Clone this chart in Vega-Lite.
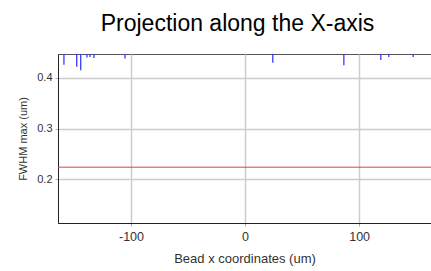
{
  "$schema": "https://vega.github.io/schema/vega-lite/v6.json",
  "width": 373,
  "height": 169,
  "autosize": {"type": "none"},
  "padding": {"left": 58, "top": 54, "right": 0, "bottom": 48},
  "background": "white",
  "title": {
    "text": "Projection along the X-axis",
    "font": "Liberation Sans",
    "fontSize": 23,
    "fontWeight": "normal",
    "color": "#000000",
    "anchor": "middle",
    "dx": -7,
    "offset": 18
  },
  "config": {
    "view": {"stroke": "#555555", "strokeWidth": 1},
    "axis": {
      "labelFont": "Liberation Sans",
      "titleFont": "Liberation Sans",
      "labelFontSize": 11,
      "titleFontSize": 11,
      "titleFontWeight": "normal",
      "labelColor": "#333333",
      "titleColor": "#333333",
      "gridColor": "#cccccc",
      "gridWidth": 1.5,
      "domainColor": "#222222",
      "tickColor": "#aaaaaa",
      "tickSize": 3
    }
  },
  "data": {
    "values": [
      {"x": -158.8, "lo": 0.426, "hi": 0.47},
      {"x": -147.6, "lo": 0.422, "hi": 0.47},
      {"x": -144.1, "lo": 0.415, "hi": 0.47},
      {"x": -138.6, "lo": 0.440, "hi": 0.47},
      {"x": -136.0, "lo": 0.441, "hi": 0.47},
      {"x": -132.5, "lo": 0.439, "hi": 0.47},
      {"x": -105.3, "lo": 0.438, "hi": 0.47},
      {"x": 24.3, "lo": 0.430, "hi": 0.47},
      {"x": 86.6, "lo": 0.425, "hi": 0.47},
      {"x": 119.0, "lo": 0.435, "hi": 0.47},
      {"x": 126.0, "lo": 0.441, "hi": 0.47},
      {"x": 147.4, "lo": 0.441, "hi": 0.47}
    ]
  },
  "layer": [
    {
      "mark": {"type": "rule", "color": "#3a3aff", "strokeWidth": 1.3, "clip": true},
      "encoding": {
        "x": {
          "field": "x",
          "type": "quantitative",
          "scale": {"domain": [-164, 163], "nice": false, "zero": false},
          "axis": {
            "title": "Bead x coordinates (um)",
            "values": [-100, 0, 100],
            "labelExpr": "'' + datum.value",
            "labelFontSize": 12.5,
            "titleFontSize": 13,
            "titlePadding": 10,
            "labelPadding": 4
          }
        },
        "y": {
          "field": "lo",
          "type": "quantitative",
          "scale": {"domain": [0.114, 0.447], "nice": false, "zero": false},
          "axis": {
            "title": "FWHM max (um)",
            "values": [0.2, 0.3, 0.4],
            "format": ".1f",
            "titlePadding": 8,
            "labelPadding": 3
          }
        },
        "y2": {"field": "hi"}
      }
    },
    {
      "data": {"values": [{"thr": 0.224}]},
      "mark": {"type": "rule", "color": "#e04040", "strokeWidth": 1},
      "encoding": {
        "y": {"field": "thr", "type": "quantitative"}
      }
    }
  ]
}
